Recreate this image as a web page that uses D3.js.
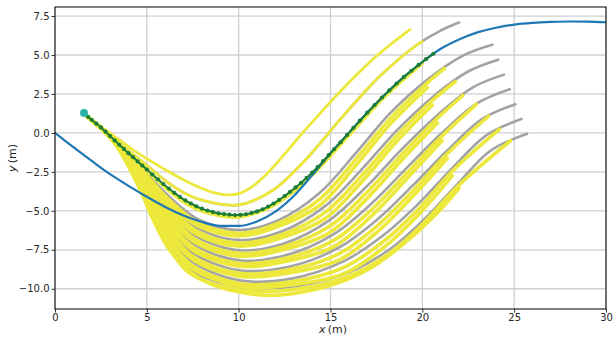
<!DOCTYPE html>
<html>
<head>
<meta charset="utf-8">
<script src="https://cdn.jsdelivr.net/npm/d3@7"></script>
<style>
  body { margin: 0; background: #fff; }
  svg { display: block; font-family: "DejaVu Sans", sans-serif; }
</style>
</head>
<body>
<svg id="chart" width="613" height="339"></svg>
<script>
// ticks
const xTicks = [0, 5, 10, 15, 20, 25, 30];
const yTicks = [-10, -7.5, -5, -2.5, 0, 2.5, 5, 7.5];

// reference path (blue)
const referencePath = [
  [0, 0], [1, -0.92], [2, -1.8], [3, -2.65], [4, -3.4], [5, -4.1], [6, -4.75], [7, -5.3],
  [8, -5.72], [9, -5.96], [10, -5.97], [11, -5.68], [12, -5.05], [13, -4.05], [14, -2.72],
  [15, -1.3], [16, 0.0], [17, 1.3], [18, 2.5], [19, 3.6], [20, 4.55], [21, 5.4], [22, 6.0],
  [23, 6.45], [24, 6.75], [25, 6.95], [26, 7.06], [27, 7.12], [28, 7.15], [29, 7.14], [30, 7.1]
];

// chosen trajectory (green, with dots)
const selectedPath = [
  [1.8, 1.03], [2.0, 0.84], [2.25, 0.6], [2.5, 0.35], [2.75, 0.08], [3.0, -0.2], [3.25, -0.48],
  [3.5, -0.76], [3.75, -1.03], [4.0, -1.3], [4.25, -1.56], [4.5, -1.83], [4.75, -2.09], [5.0, -2.35],
  [5.3, -2.67], [5.6, -2.98], [5.9, -3.28], [6.2, -3.57], [6.5, -3.85], [6.8, -4.1], [7.1, -4.33],
  [7.4, -4.53], [7.7, -4.71], [8.0, -4.86], [8.3, -4.98], [8.6, -5.08], [8.9, -5.16], [9.2, -5.21],
  [9.5, -5.25], [9.8, -5.27], [10.1, -5.26], [10.4, -5.22], [10.7, -5.14], [11.0, -5.04], [11.3, -4.9],
  [11.6, -4.73], [11.9, -4.53], [12.2, -4.3], [12.5, -4.05], [12.8, -3.78], [13.1, -3.5], [13.4, -3.2],
  [13.7, -2.88], [14.0, -2.55], [14.3, -2.19], [14.6, -1.81], [14.9, -1.43], [15.2, -1.04], [15.55, -0.6],
  [15.9, -0.13], [16.25, 0.33], [16.6, 0.79], [17.0, 1.3], [17.4, 1.79], [17.8, 2.27], [18.2, 2.73],
  [18.6, 3.17], [19.0, 3.6], [19.4, 3.99], [19.8, 4.37], [20.2, 4.73], [20.6, 5.08]
];
const startPoint = [1.58, 1.28];

// candidate trajectories: gray = longest horizon, yellow = shorter ones
const grayLanePlus1 = [[1.6, 1.2], [3.2, -0.38], [5.06, -2.14], [6.1, -3.14], [7.11, -3.9], [8.1, -4.35], [10.0, -4.62], [11.86, -3.68], [13.71, -1.64], [15.67, 1.06], [17.7, 3.65], [19.73, 5.67], [20.97, 6.55], [22.0, 7.08]];
const grayLane1 = [[1.6, 1.2], [3.2, -0.43], [4.92, -2.52], [5.86, -3.68], [6.84, -4.74], [7.86, -5.59], [10.0, -6.24], [12.2, -5.58], [14.4, -3.86], [16.39, -1.28], [18.3, 1.33], [20.27, 3.41], [22.24, 4.97], [23.81, 5.65]];
const grayLane2 = [[1.6, 1.2], [3.2, -0.45], [4.87, -2.67], [5.77, -3.93], [6.73, -5.13], [7.77, -6.12], [10.0, -6.88], [12.33, -6.33], [14.67, -4.73], [16.71, -2.33], [18.6, 0.15], [20.54, 2.28], [22.49, 3.94], [24.13, 4.7]];
const grayLane3 = [[1.6, 1.2], [3.2, -0.47], [4.81, -2.81], [5.67, -4.19], [6.63, -5.53], [7.67, -6.64], [10.0, -7.53], [12.47, -7.09], [14.93, -5.61], [17.03, -3.36], [18.9, -1.02], [20.82, 1.14], [22.73, 2.91], [24.44, 3.74]];
const grayLane4 = [[1.6, 1.2], [3.2, -0.49], [4.76, -2.96], [5.58, -4.44], [6.52, -5.92], [7.58, -7.17], [10.0, -8.17], [12.6, -7.84], [15.2, -6.48], [17.35, -4.4], [19.2, -2.18], [21.08, 0.01], [22.97, 1.89], [24.76, 2.8]];
const grayLane5 = [[1.6, 1.2], [3.2, -0.51], [4.71, -3.11], [5.49, -4.69], [6.41, -6.31], [7.49, -7.7], [10.0, -8.81], [12.73, -8.59], [15.47, -7.35], [17.67, -5.43], [19.5, -3.35], [21.36, -1.13], [23.21, 0.86], [25.07, 1.84]];
const grayLane6 = [[1.6, 1.2], [3.2, -0.53], [4.65, -3.25], [5.39, -4.95], [6.31, -6.71], [7.39, -8.22], [10.0, -9.46], [12.87, -9.35], [15.73, -8.23], [17.98, -6.47], [19.8, -4.53], [21.63, -2.26], [23.46, -0.17], [25.39, 0.89]];
const grayLane7 = [[1.6, 1.2], [3.2, -0.55], [4.6, -3.4], [5.3, -5.2], [6.2, -7.1], [7.3, -8.75], [10.0, -9.85], [13.0, -9.85], [16.0, -8.95], [18.3, -7.4], [20.1, -5.55], [21.9, -3.3], [23.7, -1.15], [25.7, -0.06]];

const yellowLanePlus2 = [[1.6, 1.2], [2.32, 0.58], [3.3, -0.28], [4.27, -1.1], [5.17, -1.78], [6.08, -2.41], [6.98, -3.0], [7.84, -3.48], [8.64, -3.83], [9.5, -3.98], [10.1, -3.86], [10.7, -3.48], [11.46, -2.72], [12.39, -1.51], [13.41, -0.09], [14.41, 1.22], [15.44, 2.55], [16.49, 3.81], [17.57, 5.0], [18.66, 6.04], [19.33, 6.63]];
const yellowLanePlus1 = [[1.6, 1.2], [3.2, -0.38], [5.06, -2.14], [6.1, -3.14], [7.11, -3.9], [8.1, -4.35], [10.0, -4.62], [11.86, -3.68], [13.71, -1.64], [15.67, 1.06], [17.7, 3.65], [19.73, 5.67], [20.0, 5.86]];
const yellowLane0 = [[1.6, 1.2], [3.2, -0.42], [5.0, -2.38], [6.0, -3.5], [7.0, -4.42], [8.0, -5.02], [10.0, -5.39], [12.0, -4.57], [14.0, -2.7], [16.0, -0.15], [18.0, 2.38], [20.0, 4.48]];
const yellowLane1a = [[1.6, 1.2], [3.2, -0.45], [4.92, -2.62], [5.86, -3.88], [6.84, -4.96], [7.86, -5.81], [10.0, -6.44], [12.2, -5.78], [14.4, -4.26], [16.39, -1.68], [18.3, 0.98], [20.27, 3.21], [21.2, 4.12]];
const yellowLane1b = [[1.6, 1.2], [3.2, -0.48], [4.92, -2.72], [5.86, -4.08], [6.84, -5.19], [7.86, -6.01], [10.0, -6.62], [12.2, -5.98], [14.4, -4.66], [16.39, -2.08], [18.3, 0.63], [20.27, 2.91]];
const yellowLane2a = [[1.6, 1.2], [3.2, -0.47], [4.87, -2.77], [5.77, -4.13], [6.73, -5.35], [7.77, -6.34], [10.0, -7.08], [12.33, -6.53], [14.67, -5.13], [16.71, -2.73], [18.6, -0.2], [20.54, 2.08], [21.8, 3.3]];
const yellowLane2b = [[1.6, 1.2], [3.2, -0.5], [4.87, -2.87], [5.77, -4.33], [6.73, -5.58], [7.77, -6.54], [10.0, -7.26], [12.33, -6.73], [14.67, -5.53], [16.71, -3.13], [18.6, -0.55], [20.54, 1.78]];
const yellowLane3a = [[1.6, 1.2], [3.2, -0.49], [4.81, -2.91], [5.67, -4.39], [6.63, -5.75], [7.67, -6.86], [10.0, -7.73], [12.47, -7.29], [14.93, -6.01], [17.03, -3.76], [18.9, -1.37], [20.82, 0.94], [22.2, 2.4]];
const yellowLane3b = [[1.6, 1.2], [3.2, -0.52], [4.81, -3.01], [5.67, -4.59], [6.63, -5.98], [7.67, -7.06], [10.0, -7.91], [12.47, -7.49], [14.93, -6.41], [17.03, -4.16], [18.9, -1.72], [20.82, 0.64]];
const yellowLane4a = [[1.6, 1.2], [3.2, -0.51], [4.76, -3.06], [5.58, -4.64], [6.52, -6.14], [7.58, -7.39], [10.0, -8.37], [12.6, -8.04], [15.2, -6.88], [17.35, -4.8], [19.2, -2.53], [21.08, -0.19], [22.95, 1.85]];
const yellowLane4b = [[1.6, 1.2], [3.2, -0.54], [4.76, -3.16], [5.58, -4.84], [6.52, -6.37], [7.58, -7.59], [10.0, -8.55], [12.6, -8.24], [15.2, -7.28], [17.35, -5.2], [19.2, -2.88], [21.08, -0.49]];
const yellowLane5a = [[1.6, 1.2], [3.2, -0.53], [4.71, -3.21], [5.49, -4.89], [6.41, -6.53], [7.49, -7.92], [10.0, -9.01], [12.73, -8.79], [15.47, -7.75], [17.67, -5.83], [19.5, -3.7], [21.36, -1.33], [23.6, 1.07]];
const yellowLane5b = [[1.6, 1.2], [3.2, -0.56], [4.71, -3.31], [5.49, -5.09], [6.41, -6.76], [7.49, -8.12], [10.0, -9.19], [12.73, -8.99], [15.47, -8.15], [17.67, -6.23], [19.5, -4.05], [21.36, -1.63]];
const yellowLane6a = [[1.6, 1.2], [3.2, -0.55], [4.65, -3.35], [5.39, -5.15], [6.31, -6.93], [7.39, -8.44], [10.0, -9.66], [12.87, -9.55], [15.73, -8.63], [17.98, -6.87], [19.8, -4.88], [21.63, -2.46], [24.2, 0.24]];
const yellowLane6b = [[1.6, 1.2], [3.2, -0.58], [4.65, -3.45], [5.39, -5.35], [6.31, -7.16], [7.39, -8.64], [10.0, -9.84], [12.87, -9.75], [15.73, -9.03], [17.98, -7.27], [19.8, -5.23], [21.63, -2.76]];
const yellowLane7a = [[1.6, 1.2], [3.2, -0.57], [4.6, -3.5], [5.3, -5.4], [6.2, -7.32], [7.3, -8.97], [10.0, -10.05], [13.0, -10.05], [16.0, -9.2], [18.3, -7.65], [20.1, -5.75], [21.9, -3.45], [24.8, -0.5]];
const yellowLane7b = [[1.6, 1.2], [3.2, -0.6], [4.6, -3.55], [5.3, -5.45], [6.2, -7.45], [7.3, -8.85], [8.5, -9.7], [10.0, -10.2], [11.5, -10.42], [13.0, -10.3], [15.1, -9.75], [17.0, -8.8], [18.8, -7.3], [20.6, -5.4], [22.0, -3.55]];

const grayTrajectories = [grayLanePlus1, grayLane1, grayLane2, grayLane3, grayLane4, grayLane5, grayLane6, grayLane7];
const thinYellowTrajectories = [yellowLanePlus2, yellowLanePlus1];
const yellowTrajectories = [
  yellowLane0,
  yellowLane1a, yellowLane1b, yellowLane2a, yellowLane2b, yellowLane3a, yellowLane3b,
  yellowLane4a, yellowLane4b, yellowLane5a, yellowLane5b, yellowLane6a, yellowLane6b,
  yellowLane7a, yellowLane7b
];

const width = 613, height = 339;
const margin = { top: 7, right: 7, bottom: 30, left: 55 };

const svg = d3.select('#chart');

const x = d3.scaleLinear().domain([0, 30]).range([margin.left, width - margin.right]);
const y = d3.scaleLinear().domain([-11.3, 8.08]).range([height - margin.bottom, margin.top]);

svg.append('defs').append('clipPath').attr('id', 'plot-clip')
  .append('rect')
  .attr('x', margin.left).attr('y', margin.top)
  .attr('width', width - margin.left - margin.right)
  .attr('height', height - margin.top - margin.bottom);

// grid
const grid = svg.append('g').attr('stroke', '#d0d0d0').attr('stroke-width', 1.3);
grid.selectAll('.gx').data(xTicks).enter().append('line')
  .attr('x1', d => x(d)).attr('x2', d => x(d))
  .attr('y1', margin.top).attr('y2', height - margin.bottom);
grid.selectAll('.gy').data(yTicks).enter().append('line')
  .attr('x1', margin.left).attr('x2', width - margin.right)
  .attr('y1', d => y(d)).attr('y2', d => y(d));

const line = d3.line()
  .x(d => x(d[0]))
  .y(d => y(d[1]))
  .curve(d3.curveCatmullRom.alpha(0.5));

const plot = svg.append('g').attr('clip-path', 'url(#plot-clip)');

plot.selectAll('.gray-traj').data(grayTrajectories).enter().append('path')
  .attr('d', line)
  .attr('fill', 'none')
  .attr('stroke', '#a3a3a3')
  .attr('stroke-width', 2.6)
  .attr('stroke-linecap', 'round');

plot.selectAll('.yellow-traj').data(yellowTrajectories).enter().append('path')
  .attr('d', line)
  .attr('fill', 'none')
  .attr('stroke', '#ede83c')
  .attr('stroke-width', 3.6)
  .attr('stroke-linecap', 'round');

plot.selectAll('.yellow-thin').data(thinYellowTrajectories).enter().append('path')
  .attr('d', line)
  .attr('fill', 'none')
  .attr('stroke', '#ede83c')
  .attr('stroke-width', 2.8)
  .attr('stroke-linecap', 'round');

plot.append('path')
  .attr('d', d3.line().x(d => x(d[0])).y(d => y(d[1])).curve(d3.curveMonotoneX)(referencePath))
  .attr('fill', 'none')
  .attr('stroke', '#1f77b4')
  .attr('stroke-width', 2.2);

plot.append('path')
  .attr('d', line(selectedPath))
  .attr('fill', 'none')
  .attr('stroke', '#1b7d36')
  .attr('stroke-width', 2);

plot.selectAll('.sel-dot').data(selectedPath).enter().append('circle')
  .attr('cx', d => x(d[0]))
  .attr('cy', d => y(d[1]))
  .attr('r', 2.1)
  .attr('fill', '#1b7d36');

plot.append('circle')
  .attr('cx', x(startPoint[0]))
  .attr('cy', y(startPoint[1]))
  .attr('r', 4)
  .attr('fill', '#2ab3a8');

// axes
const fmtY = d => d3.format('.1f')(d).replace('-', '\u2212');

const xAxis = svg.append('g')
  .attr('transform', `translate(0,${height - margin.bottom})`)
  .call(d3.axisBottom(x).tickValues(xTicks).tickFormat(d3.format('d')).tickSize(3.5).tickPadding(1.2));
const yAxis = svg.append('g')
  .attr('transform', `translate(${margin.left},0)`)
  .call(d3.axisLeft(y).tickValues(yTicks).tickFormat(fmtY).tickSize(3.5).tickPadding(2));

[xAxis, yAxis].forEach(a => {
  a.select('.domain').remove();
  a.selectAll('line').attr('stroke', '#000').attr('stroke-width', 0.8);
  a.selectAll('text')
    .attr('fill', '#262626')
    .style('font-size', '10px')
    .style('font-family', '"DejaVu Sans", sans-serif');
});

// frame
svg.append('rect')
  .attr('x', margin.left).attr('y', margin.top)
  .attr('width', width - margin.left - margin.right)
  .attr('height', height - margin.top - margin.bottom)
  .attr('fill', 'none')
  .attr('stroke', '#000')
  .attr('stroke-width', 1);

// axis labels
const xLabel = svg.append('text')
  .attr('x', 333).attr('y', 333)
  .attr('text-anchor', 'middle')
  .attr('fill', '#262626')
  .style('font-size', '11px');
xLabel.append('tspan').style('font-style', 'italic').text('x');
xLabel.append('tspan').text('\u2009(m)');

const yLabel = svg.append('text')
  .attr('transform', 'translate(16,158) rotate(-90)')
  .attr('text-anchor', 'middle')
  .attr('fill', '#262626')
  .style('font-size', '11px');
yLabel.append('tspan').style('font-style', 'italic').text('y');
yLabel.append('tspan').text('\u2009(m)');
</script>
</body>
</html>
